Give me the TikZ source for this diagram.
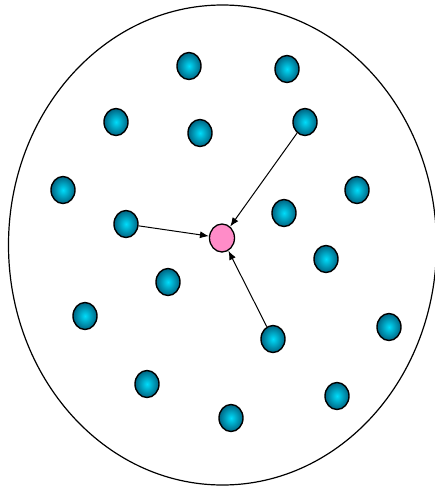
\documentclass[tikz,border=0pt]{standalone}
\usetikzlibrary{shapes.geometric,arrows.meta}
\definecolor{dotin}{RGB}{0,220,250}
\definecolor{dotout}{RGB}{0,100,130}
\definecolor{centerpink}{RGB}{255,140,200}
\begin{document}
\begin{tikzpicture}[x=1pt, y=-1pt,
        particle/.style={ellipse, draw=black, line width=1.4pt, inner sep=0pt,
            minimum width=24pt, minimum height=27pt, shading=radial,
            inner color=dotin, outer color=dotout},
        target/.style={ellipse, draw=black, line width=1.3pt, fill=centerpink,
            inner sep=0pt, minimum width=25pt, minimum height=28pt},
        pull/.style={-{Latex[length=9pt,width=7pt]}, line width=1pt}]
        \useasboundingbox (0,0) rectangle (435,488);
        % Outer boundary
        \draw[line width=1.2pt] (222.5,245) ellipse (214 and 240);

        % Central particle
        \node[target] (pink) at (222,238) {};

        % Surrounding particles
        \node[particle] (p1) at (189,66) {};
        \node[particle] (p2) at (287,69) {};
        \node[particle] (p3) at (116,122) {};
        \node[particle] (p4) at (200,133) {};
        \node[particle] (p5) at (305,122) {};
        \node[particle] (p6) at (63,190) {};
        \node[particle] (p7) at (357,190) {};
        \node[particle] (p8) at (126,224) {};
        \node[particle] (p9) at (284,213) {};
        \node[particle] (p10) at (326,259) {};
        \node[particle] (p11) at (168,282) {};
        \node[particle] (p12) at (85,316) {};
        \node[particle] (p13) at (389,327) {};
        \node[particle] (p14) at (273,339) {};
        \node[particle] (p15) at (147,384) {};
        \node[particle] (p16) at (337,396) {};
        \node[particle] (p17) at (231,418) {};

        % Attraction arrows
        \draw[pull] (p5) -- (pink);
        \draw[pull] (p8) -- (pink);
        \draw[pull] (p14) -- (pink);
    \end{tikzpicture}
\end{document}
